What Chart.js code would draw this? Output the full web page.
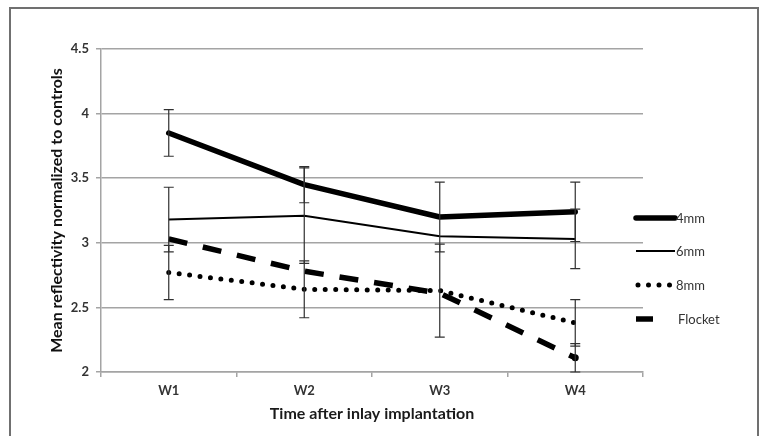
<!DOCTYPE html>
<html>
<head>
<meta charset="utf-8">
<script src="https://cdn.jsdelivr.net/npm/chart.js@4.4.1/dist/chart.umd.min.js"></script>
<style>
  html, body { margin: 0; padding: 0; background: #fff; overflow: hidden; }
  #wrap { position: relative; width: 766px; height: 436px; overflow: hidden; }
  #frame { position: absolute; left: 9px; top: 7px; width: 746px; height: 460px; border: 2px solid #707070; pointer-events: none; }
  canvas { position: absolute; left: 0; top: 0; }
</style>
</head>
<body>
<div id="wrap">
  <canvas id="c" width="766" height="436"></canvas>
  <div id="frame"></div>
</div>
<script>
const categories = ['W1', 'W2', 'W3', 'W4'];
const seriesNames = ['4mm', '6mm', '8mm', 'Flocket'];
const values4mm = [3.85, 3.45, 3.20, 3.24];
const values6mm = [3.18, 3.21, 3.05, 3.03];
const values8mm = [2.77, 2.64, 2.63, 2.38];
const valuesFlocket = [3.03, 2.78, 2.61, 2.11];
const err4mm = [0.18, 0.14, 0.27, 0.23];
const err6mm = [0.25, 0.37, null, 0.23];
const err8mm = [0.21, 0.22, 0.36, 0.18];
const errFlocket = [null, null, null, 0.11];
const yTicks = [2, 2.5, 3, 3.5, 4, 4.5];

const FONT = 'Lato, "Open Sans", sans-serif';
const TEXT = '#333333';
const GRID = '#a4a4a4';

const errorBars = {
  id: 'errorBars',
  afterDatasetsDraw(chart) {
    const { ctx, scales: { x, y } } = chart;
    ctx.save();
    ctx.strokeStyle = '#303030';
    ctx.lineWidth = 1.2;
    ctx.setLineDash([]);
    chart.data.datasets.forEach(ds => {
      ds.errors.forEach((e, i) => {
        if (e == null) return;
        const v = ds.data[i];
        const px = x.getPixelForValue(i);
        const top = y.getPixelForValue(v + e);
        const bot = y.getPixelForValue(v - e);
        ctx.beginPath();
        ctx.moveTo(px, top); ctx.lineTo(px, bot);
        ctx.moveTo(px - 5, top); ctx.lineTo(px + 5, top);
        ctx.moveTo(px - 5, bot); ctx.lineTo(px + 5, bot);
        ctx.stroke();
      });
    });
    ctx.restore();
  }
};

const customLegend = {
  id: 'customLegend',
  afterDraw(chart) {
    const { ctx } = chart;
    const ys = [218, 251, 285, 319];
    ctx.save();
    chart.data.datasets.forEach((ds, i) => {
      const yy = ys[i];
      ctx.strokeStyle = ds.borderColor;
      ctx.lineWidth = ds.borderWidth;
      ctx.lineCap = ds.borderCapStyle || 'butt';
      ctx.setLineDash(ds.borderDash || []);
      ctx.beginPath();
      if (i === 3) { ctx.moveTo(636, yy); ctx.lineTo(653, yy); }
      else if (i === 2) { ctx.moveTo(638, yy); ctx.lineTo(672, yy); }
      else { ctx.moveTo(636, yy); ctx.lineTo(675, yy); }
      ctx.stroke();
      ctx.setLineDash([]);
      ctx.fillStyle = TEXT;
      ctx.font = '13px ' + FONT;
      ctx.textBaseline = 'middle';
      ctx.textAlign = 'left';
      ctx.fillText(ds.label, i === 3 ? 678 : 676, yy + 1);
    });
    ctx.restore();
  }
};

new Chart(document.getElementById('c'), {
  type: 'line',
  data: {
    labels: categories,
    datasets: [
      { label: seriesNames[0], data: values4mm, errors: err4mm, borderColor: '#000', borderWidth: 5.5, borderJoinStyle: 'round', borderCapStyle: 'round' },
      { label: seriesNames[1], data: values6mm, errors: err6mm, borderColor: '#000', borderWidth: 2 },
      { label: seriesNames[2], data: values8mm, errors: err8mm, borderColor: '#000', borderWidth: 5, borderDash: [0, 10.5], borderCapStyle: 'round' },
      { label: seriesNames[3], data: valuesFlocket, errors: errFlocket, borderColor: '#000', borderWidth: 5.5, borderDash: [19, 16], borderCapStyle: 'butt',
        pointRadius: c => (c.dataIndex === c.dataset.data.length - 1 ? 3.5 : 0), pointBackgroundColor: '#000', pointBorderWidth: 0 }
    ].map(d => Object.assign({ pointRadius: 0, pointHoverRadius: 0, tension: 0, fill: false }, d))
  },
  options: {
    responsive: false,
    animation: false,
    devicePixelRatio: 1,
    layout: { padding: { left: 0, right: 123, top: 49, bottom: 0 } },
    plugins: { legend: { display: false }, tooltip: { enabled: false } },
    scales: {
      x: {
        type: 'category',
        offset: true,
        grid: { offset: true, drawOnChartArea: false, drawTicks: true, tickLength: 5, color: GRID, lineWidth: 1.5 },
        border: { display: true, color: GRID, width: 1.5 },
        ticks: { color: TEXT, font: { family: FONT, size: 13, weight: 'bold' }, padding: 6, maxRotation: 0 },
        title: { display: true, text: 'Time after inlay implantation', color: '#1a1a1a', font: { family: FONT, size: 16, weight: 'bold' }, padding: { top: 0, bottom: 13 } },
        afterFit(s) { s.height = 64; }
      },
      y: {
        min: 2, max: 4.5,
        afterBuildTicks(s) { s.ticks = yTicks.map(v => ({ value: v })); },
        grid: { color: GRID, lineWidth: 1.5, tickLength: 5 },
        border: { display: true, color: GRID, width: 1.5 },
        ticks: { color: TEXT, font: { family: FONT, size: 13, weight: 'bold' }, padding: 7, callback: v => String(v) },
        title: { display: true, text: 'Mean reflectivity normalized to controls', color: '#111', font: { family: FONT, size: 16, weight: 'bold' }, padding: { top: 47, bottom: 0 } },
        afterFit(s) { s.width = 101; }
      }
    }
  },
  plugins: [errorBars, customLegend]
});
</script>
</body>
</html>
